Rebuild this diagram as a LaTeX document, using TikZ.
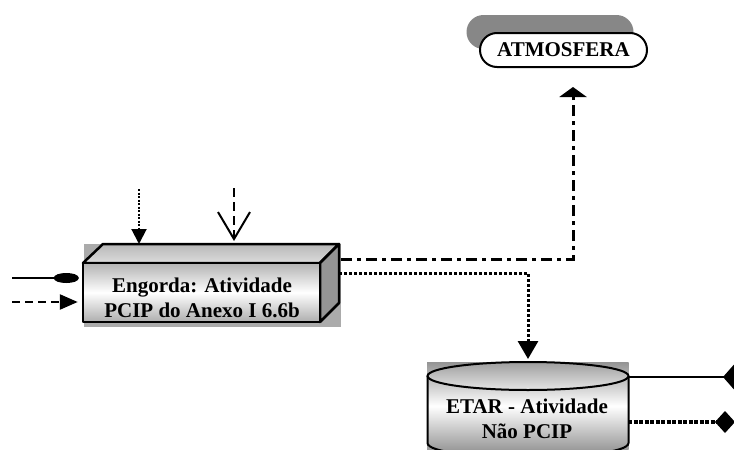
\documentclass[tikz,border=0pt]{standalone}
\usepackage{fontspec}
\setmainfont{Liberation Serif}
\usetikzlibrary{arrows.meta,shapes.misc,calc}
\begin{document}
\begin{tikzpicture}[x=1pt,y=-1pt,
  lbl/.style={font=\fontsize{21}{25}\selectfont\bfseries, align=center, inner sep=0pt},
  edge/.style={line width=2.5pt, line join=round},
  dashdot/.style={line width=3pt, dash pattern=on 11pt off 5pt on 4pt off 5pt},
  sqdots/.style={line width=3pt, dash pattern=on 3pt off 2pt},
  densedots/.style={line width=3.5pt, dash pattern=on 4pt off 1.5pt},
  finedots/.style={line width=2pt, dash pattern=on 2pt off 1.5pt},
  plainline/.style={line width=2pt},
  dashline/.style={line width=2.5pt, dash pattern=on 8pt off 5pt},
  vdash/.style={line width=2pt, dash pattern=on 9pt off 5pt},
  ghost/.style={inner sep=0pt, outer sep=0pt}
]
\clip (0,0) rectangle (734,450);
\fill[white] (0,0) rectangle (734,450);

% ---------- Engorda 3D box ----------
\node[ghost, minimum width=256pt, minimum height=78pt] (engbox) at (211,283) {};
\fill[black!33] (84,244) rectangle (341,327);
\path[edge, draw, top color=black!28, bottom color=black!14]
  (83,263) -- (103,244) -- (339,244) -- (320,263) -- cycle;
\path[edge, draw, fill=black!42]
  (320,263) -- (339,244) -- (339,303) -- (320,322) -- cycle;
\node[edge, draw, minimum width=237pt, minimum height=59pt, inner sep=0pt,
  top color=black!30, bottom color=black!32, middle color=white] (eng) at (201.5,292.5) {};
\node[lbl] (engtxt) at (202,297.4) {Engorda: Atividade\\PCIP do Anexo I 6.6b};

% top inputs
\coordinate (t1) at (139,189);
\coordinate (t2) at (234,188);
\draw[finedots, -{Triangle[length=15pt,width=15pt]}] (t1) -- (t1 |- engbox.north);
\draw[vdash, shorten >=3pt, -{Straight Barb[length=27pt,width=32pt]}] (t2) -- (t2 |- engbox.north);

% left inputs
\coordinate (l1) at (12,278);
\coordinate (l2) at (12,302);
\draw[plainline, shorten >=3pt, -{Ellipse[length=25pt,width=10pt]}] (l1) -- (l1 -| eng.west);
\draw[dashline, shorten >=4pt, -{Triangle[length=18pt,width=15pt]}] (l2) -- (l2 -| eng.west);

% ---------- ATMOSFERA ----------
\node[rounded rectangle, fill=black!47, minimum width=167pt, minimum height=34pt, inner sep=0pt] (atmsh) at (550,32) {};
\node[rounded rectangle, draw, line width=2pt, fill=white, minimum width=167pt, minimum height=34pt, lbl] (atm) at (563.5,50) {ATMOSFERA};

% ---------- ETAR cylinder ----------
\node[ghost, minimum width=201pt, minimum height=88pt] (cyl) at (527.5,406) {};
\shade[top color=black!42, bottom color=black!40, middle color=white] (427,362) rectangle (628.5,450);
\fill[top color=black!38, bottom color=black!10] (528,376) ellipse [x radius=100.5, y radius=14];
\draw[line width=2pt] (528,376) ellipse [x radius=100.5, y radius=14];
\draw[line width=2pt] (427.5,376) -- (427.5,443) .. controls (427.5,461.7) and (628.5,461.7) .. (628.5,443) -- (628.5,376);
\node[lbl] (etar) at (527,418.4) {ETAR - Atividade\\Não PCIP};

% ---------- connectors from Engorda ----------
\coordinate (e1) at (341,259);
\coordinate (e2) at (339,273);
\coordinate (atmin) at (573,87);
\coordinate (etartop) at (528,359);
\draw[dashdot, -{Triangle[length=10pt,width=27pt]}] (e1) -| (atmin);
\draw[sqdots, -{Triangle[length=18pt,width=20pt]}] (e2) -| (etartop);

% ---------- outputs of ETAR ----------
\coordinate (d1) at (745,377);
\coordinate (d2) at (735,422);
\draw[plainline, -{Diamond[length=22pt,width=25pt]}] (d1 -| cyl.east) -- (d1);
\draw[densedots, -{Diamond[length=20pt,width=22pt]}] (d2 -| cyl.east) -- (d2);
\end{tikzpicture}
\end{document}
